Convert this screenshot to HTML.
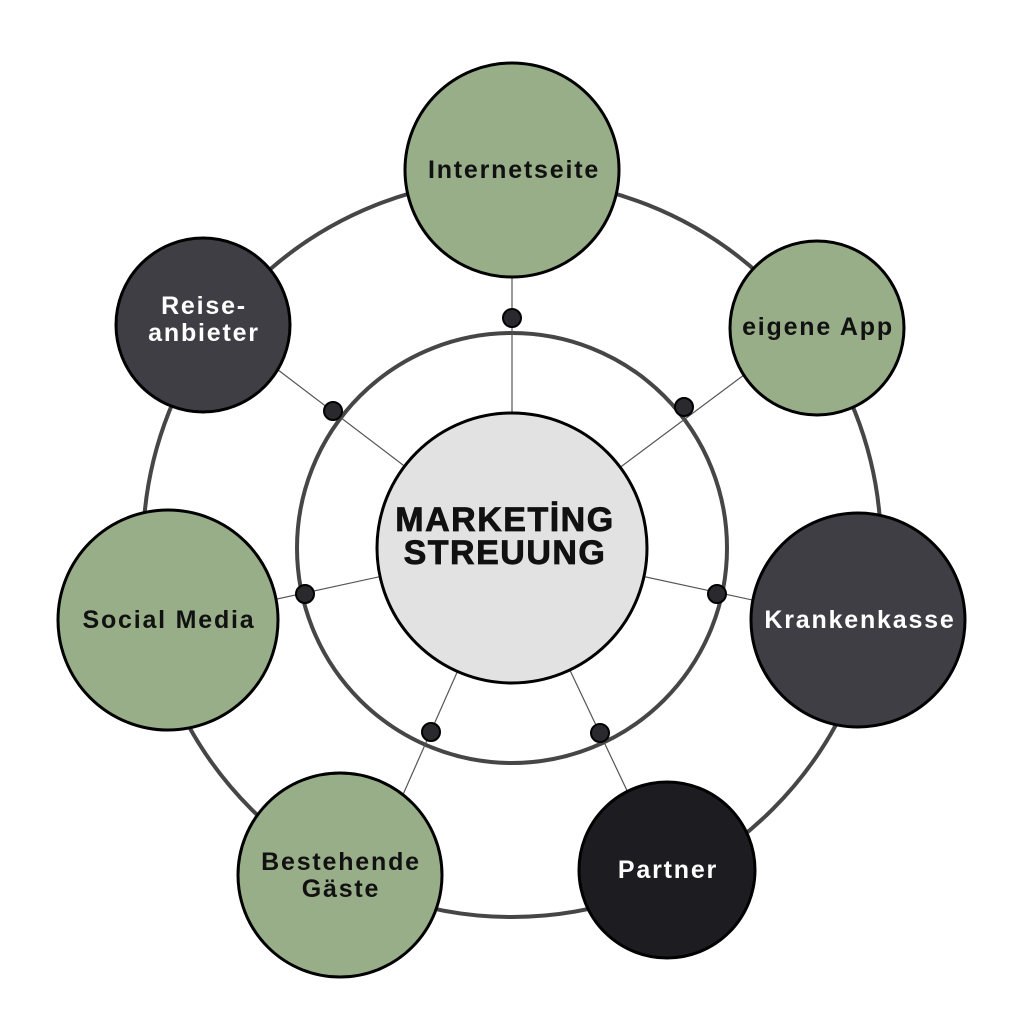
<!DOCTYPE html>
<html><head><meta charset="utf-8"><style>
html,body{margin:0;padding:0;background:#fff;}
svg{display:block;}
text{font-family:"Liberation Sans",Arial,sans-serif;font-weight:bold;text-anchor:middle;}
.n{font-size:25px;letter-spacing:1.8px;}
</style></head><body>
<svg width="1024" height="1024" viewBox="0 0 1024 1024">
<circle cx="512" cy="548" r="369" fill="none" stroke="#464646" stroke-width="4"/>
<circle cx="512" cy="548" r="215" fill="none" stroke="#464646" stroke-width="4"/>
<g stroke="#555" stroke-width="1.2">
<line x1="512" y1="548" x2="512" y2="250"/>
<line x1="512" y1="548" x2="760" y2="363"/>
<line x1="512" y1="548" x2="780" y2="606"/>
<line x1="512" y1="548" x2="640" y2="818"/>
<line x1="512" y1="548" x2="390" y2="824"/>
<line x1="512" y1="548" x2="240" y2="607"/>
<line x1="512" y1="548" x2="265" y2="360"/>
</g>
<g fill="#2a2a2e" stroke="#000" stroke-width="2">
<circle cx="512" cy="318" r="9"/><circle cx="684" cy="407" r="9"/><circle cx="717" cy="594" r="9"/>
<circle cx="600" cy="733" r="9"/><circle cx="431" cy="732" r="9"/><circle cx="305" cy="594" r="9"/><circle cx="333" cy="411" r="9"/>
</g>
<g stroke="#000" stroke-width="3">
<circle cx="512" cy="548" r="135" fill="#e2e2e2"/>
<circle cx="512" cy="170" r="107" fill="#98ae88"/>
<circle cx="817" cy="328" r="87" fill="#98ae88"/>
<circle cx="858" cy="620" r="107" fill="#3f3e45"/>
<circle cx="667" cy="870" r="88" fill="#1d1c21"/>
<circle cx="340" cy="875" r="102" fill="#98ae88"/>
<circle cx="168" cy="620" r="110" fill="#98ae88"/>
<circle cx="203" cy="325" r="87" fill="#3f3e45"/>
</g>
<text x="505" y="531" font-size="34" letter-spacing="1.5" fill="#111" stroke="#111" stroke-width="0.8">MARKETİNG</text>
<text x="505" y="564" font-size="34" letter-spacing="1.5" fill="#111" stroke="#111" stroke-width="0.8">STREUUNG</text>
<text class="n" x="514" y="178" fill="#111">Internetseite</text>
<text class="n" x="818" y="335" fill="#111">eigene App</text>
<text class="n" x="860" y="628" fill="#fff">Krankenkasse</text>
<text class="n" x="668" y="878" fill="#fff">Partner</text>
<text class="n" x="341" y="870" fill="#111">Bestehende</text>
<text class="n" x="341" y="897" fill="#111">Gäste</text>
<text class="n" x="169" y="628" fill="#111">Social Media</text>
<text class="n" x="204" y="314" fill="#fff">Reise-</text>
<text class="n" x="204" y="341" fill="#fff">anbieter</text>
</svg>
</body></html>
